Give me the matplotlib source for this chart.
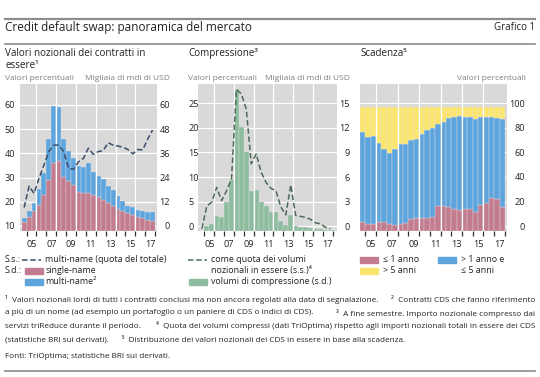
import matplotlib
matplotlib.use("Agg")
import matplotlib.pyplot as plt
import numpy as np
from matplotlib.lines import Line2D
from matplotlib.patches import Rectangle

plt.rcParams['font.family'] = ['Open Sans', 'DejaVu Sans']

# ---------------- data (semi-annual, H2 2004 .. H2 2017) ----------------
periods = ['2004-H2', '2005-H1', '2005-H2', '2006-H1', '2006-H2', '2007-H1', '2007-H2',
           '2008-H1', '2008-H2', '2009-H1', '2009-H2', '2010-H1', '2010-H2', '2011-H1',
           '2011-H2', '2012-H1', '2012-H2', '2013-H1', '2013-H2', '2014-H1', '2014-H2',
           '2015-H1', '2015-H2', '2016-H1', '2016-H2', '2017-H1', '2017-H2']

# Panel 1: notional outstanding (thousands of bn USD) and multi-name share (%)
single_name = [4.3, 6.8, 9.8, 12.6, 17.6, 25.0, 33.3, 34.7, 26.4, 24.7, 22.6, 19.2, 18.4, 18.4,
               17.6, 16.4, 15.1, 13.8, 12.1, 10.9, 9.8, 8.5, 7.6, 6.8, 6.0, 5.1, 4.5]
multi_name = [2.0, 3.0, 3.6, 7.8, 11.1, 20.3, 28.6, 26.8, 18.9, 14.9, 13.2, 12.8, 12.9, 15.3,
              11.6, 10.6, 10.3, 8.3, 8.0, 6.2, 5.0, 3.9, 4.0, 3.3, 3.5, 4.2, 4.6]
multi_share = [17.6, 26.4, 23.4, 29.6, 35.1, 40.7, 43.4, 43.4, 40.7, 33.8, 33.4, 36.5, 37.9, 42.1,
               39.6, 40.7, 41.1, 44.4, 43.4, 43.0, 42.5, 41.6, 39.8, 41.6, 41.4, 45.8, 49.6]

# Panel 2: compression volumes (thousands of bn USD) and share of notional (%)
compression = [0.0, 0.5, 0.75, 1.75, 1.65, 3.5, 6.2, 17.3, 12.6, 9.6, 4.8, 4.9, 3.5, 3.0,
               2.3, 2.3, 1.15, 0.65, 1.85, 0.53, 0.45, 0.37, 0.28, 0.2, 0.16, 0.12, 0.08]
compr_share = [-0.5, 4.1, 4.9, 7.9, 5.2, 7.2, 9.6, 27.8, 26.9, 23.8, 12.7, 14.7, 11.0, 8.9,
               7.7, 7.2, 3.9, 2.3, 8.4, 2.2, 2.0, 1.8, 1.4, 0.7, 0.5, -0.2, -0.5]

# Panel 3: maturity distribution (%)
le_1y = [7.1, 5.5, 5.2, 6.5, 7.1, 5.2, 4.3, 5.2, 5.7, 9.0, 9.8, 10.1, 10.1, 11.1,
         20.1, 20.1, 19.3, 17.1, 16.8, 17.7, 17.5, 14.7, 20.5, 22.0, 26.4, 25.3, 19.3]
y1_5 = [72.9, 70.5, 71.3, 64.5, 59.2, 57.8, 62.0, 65.2, 64.7, 64.3, 64.8, 68.4, 71.6, 71.9,
        66.4, 68.4, 71.7, 75.1, 76.2, 74.6, 74.7, 75.8, 71.9, 70.4, 65.6, 66.2, 71.5]
gt_5y = [20.0, 24.0, 23.5, 29.0, 33.7, 37.0, 33.7, 29.6, 29.6, 26.7, 25.4, 21.5, 18.3, 17.0,
         13.5, 11.5, 9.0, 7.8, 7.0, 7.7, 7.8, 9.5, 7.6, 7.6, 8.0, 8.5, 9.2]

year_labels = ['05', '07', '09', '11', '13', '15', '17']

# ---------------- styles ----------------
W, H = 540, 377
C_PINK = '#c27b8f'
C_BLUE = '#5ea5de'
C_YEL = '#fbe56e'
C_GREEN = '#8dbd9e'
C_BG = '#d9d9d9'
C_DASH1 = '#3a4d68'
C_DASH2 = '#4d6b5a'
C_TXT = '#222222'
C_UNIT = '#7f7f7f'
FS_TICK = 6.6

fig = plt.figure(figsize=(W / 100, H / 100), dpi=100)

def fx(x):
    return x / W

def fy(y):
    return 1 - y / H

def ftext(x, y, s, **kw):
    kw.setdefault('va', 'center')
    kw.setdefault('color', C_TXT)
    return fig.text(fx(x), fy(y), s, **kw)

TOP, BOT = 84, 230.5

def make_ax(x0, x1, xlim):
    ax = fig.add_axes([fx(x0), fy(BOT), (x1 - x0) / W, (BOT - TOP) / H])
    ax.set_facecolor(C_BG)
    for s in ax.spines.values():
        s.set_visible(False)
    ax.set_xlim(*xlim)
    ax.set_xticks(np.arange(2005, 2019))
    ax.set_xticklabels([])
    ax.set_xticks([int('20' + l) + 0.5 for l in year_labels], minor=True)
    ax.set_xticklabels(year_labels, minor=True)
    ax.tick_params(axis='x', which='major', direction='out', length=3.8, width=0.9,
                   color='#333333')
    ax.tick_params(axis='x', which='minor', length=0, pad=7.0, labelsize=FS_TICK,
                   labelcolor=C_TXT)
    ax.set_axisbelow(True)
    ax.grid(axis='y', color='white', lw=0.9)
    return ax

def make_twin(ax):
    t = ax.twinx()
    for s in t.spines.values():
        s.set_visible(False)
    return t

def vgrid(ax):
    for yr in range(2006, 2018, 2):
        ax.axvline(yr, color='white', lw=0.9, zorder=2.5)

x = 2004.75 + 0.5 * np.arange(len(periods))
BW = 0.5
EDGE = dict(edgecolor='#e4e4e4', linewidth=0.25)

# ---------------- panel 1 ----------------
ax1 = make_ax(20, 157, (2004.33, 2018.2))
ax1t = make_twin(ax1)
floor1 = -2.3
ax1.set_ylim(floor1, 70.4)
ax1.set_yticks(np.arange(0, 61, 12))
sn = np.array(single_name)
mn = np.array(multi_name)
ax1.bar(x, sn, bottom=floor1, width=BW, color=C_PINK, **EDGE)
ax1.bar(x, mn, bottom=floor1 + sn, width=BW, color=C_BLUE, **EDGE)
vgrid(ax1)
ax1t.set_ylim(10 + floor1 * 50 / 60, 10 + 70.4 * 50 / 60)
ax1t.set_yticks(np.arange(10, 61, 10))
ax1t.plot(x, multi_share, color=C_DASH1, lw=1.1, dashes=(3.6, 1.8))

# ---------------- panel 2 ----------------
ax2 = make_ax(198.3, 336.7, (2004.39, 2018.4))
ax2t = make_twin(ax2)
floor2 = -0.52
ax2.set_ylim(floor2, 17.35)
ax2.set_yticks(np.arange(0, 16, 3))
ax2.bar(x, compression, bottom=floor2, width=BW, color=C_GREEN, **EDGE)
vgrid(ax2)
ax2t.set_ylim(floor2 * 25 / 15, 17.35 * 25 / 15)
ax2t.set_yticks(np.arange(0, 26, 5))
ax2t.plot(x, compr_share, color=C_DASH2, lw=1.1, dashes=(3.6, 1.8))

# ---------------- panel 3 ----------------
ax3 = make_ax(360, 507, (2004.5, 2018.19))
floor3 = -3.5
ax3.set_ylim(floor3, 115.5)
ax3.set_yticks(np.arange(0, 101, 20))
a = np.array(le_1y)
b = np.array(y1_5)
c = np.array(gt_5y)
ax3.bar(x, a, bottom=floor3, width=BW, color=C_PINK, **EDGE)
ax3.bar(x, b, bottom=floor3 + a, width=BW, color=C_BLUE, **EDGE)
ax3.bar(x, c, bottom=floor3 + a + b, width=BW, color=C_YEL, **EDGE)
vgrid(ax3)

# ---------------- y tick sides / alignment (after twinning) ----------------
def right_labels(ax, pad):
    ax.yaxis.set_ticks_position('right')
    ax.tick_params(axis='y', which='both', length=0, labelsize=FS_TICK, labelcolor=C_TXT,
                   pad=pad, labelleft=False, labelright=True)
    for t in ax.get_yticklabels():
        t.set_horizontalalignment('right')

def left_labels(ax, pad, ha):
    ax.yaxis.set_ticks_position('left')
    ax.tick_params(axis='y', which='both', length=0, labelsize=FS_TICK, labelcolor=C_TXT,
                   pad=pad, labelleft=True, labelright=False)
    for t in ax.get_yticklabels():
        t.set_horizontalalignment(ha)

right_labels(ax1, 9.4)
left_labels(ax1t, 3.6, 'right')
right_labels(ax2, 9.6)
left_labels(ax2t, 7.2, 'left')
right_labels(ax3, 13)

# ---------------- header ----------------
fig.add_artist(Line2D([fx(5), fx(535)], [fy(19), fy(19)], color='#8c8c8c', lw=1.6))
fig.add_artist(Line2D([fx(5), fx(535)], [fy(43.5), fy(43.5)], color='#8c8c8c', lw=1.2))
ftext(5, 27, 'Credit default swap: panoramica del mercato', fontsize=8.5)
ftext(535, 27.5, 'Grafico 1', fontsize=7, ha='right')

FS_SUB = 7.15
ftext(5, 53.5, 'Valori nozionali dei contratti in', fontsize=FS_SUB)
ftext(5, 65, 'essere¹', fontsize=FS_SUB)
ftext(188, 53.5, 'Compressione³', fontsize=FS_SUB)
ftext(360, 53.5, 'Scadenza⁵', fontsize=FS_SUB)

FS_UNIT = 6.0
ftext(5, 78, 'Valori percentuali', fontsize=FS_UNIT, color=C_UNIT)
ftext(170, 78, 'Migliaia di mdi di USD', fontsize=FS_UNIT, color=C_UNIT, ha='right')
ftext(188, 78, 'Valori percentuali', fontsize=FS_UNIT, color=C_UNIT)
ftext(350, 78, 'Migliaia di mdi di USD', fontsize=FS_UNIT, color=C_UNIT, ha='right')
ftext(526, 78, 'Valori percentuali', fontsize=FS_UNIT, color=C_UNIT, ha='right')

# ---------------- legends ----------------
FS_LEG = 6.4
def leg_patch(x0, y, color):
    fig.add_artist(Rectangle((fx(x0), fy(y + 3)), 18 / W, 6 / H, color=color,
                             transform=fig.transFigure))

def leg_dash(x0, y, color):
    fig.add_artist(Line2D([fx(x0), fx(x0 + 19)], [fy(y), fy(y)], color=color, lw=1.1,
                          dashes=(3.6, 1.8)))

ly = [259.5, 270.5, 281.5]
ftext(5, ly[0], 'S.s.:', fontsize=FS_LEG)
leg_dash(22, ly[0], C_DASH1)
ftext(45, ly[0], 'multi-name (quota del totale)', fontsize=FS_LEG)
ftext(5, ly[1], 'S.d.:', fontsize=FS_LEG)
leg_patch(25, ly[1], C_PINK)
ftext(45, ly[1], 'single-name', fontsize=FS_LEG)
leg_patch(25, ly[2], C_BLUE)
ftext(45, ly[2], 'multi-name²', fontsize=FS_LEG)

leg_dash(188, ly[0], C_DASH2)
ftext(211, ly[0], 'come quota dei volumi', fontsize=FS_LEG)
ftext(211, ly[1], 'nozionali in essere (s.s.)⁴', fontsize=FS_LEG)
leg_patch(189, ly[2], C_GREEN)
ftext(211, ly[2], 'volumi di compressione (s.d.)', fontsize=FS_LEG)

leg_patch(360, ly[0], C_PINK)
ftext(383, ly[0], '≤ 1 anno', fontsize=FS_LEG)
leg_patch(360, ly[1], C_YEL)
ftext(383, ly[1], '> 5 anni', fontsize=FS_LEG)
leg_patch(438, ly[0], C_BLUE)
ftext(461, ly[0], '> 1 anno e', fontsize=FS_LEG)
ftext(461, ly[1], '≤ 5 anni', fontsize=FS_LEG)

# ---------------- footnotes ----------------
FS_FN = 5.9
fn_y = [300, 313, 326, 339]
ftext(5, fn_y[0], '¹  Valori nozionali lordi di tutti i contratti conclusi ma non ancora regolati alla data di segnalazione.', fontsize=FS_FN)
ftext(535, fn_y[0], '²  Contratti CDS che fanno riferimento', fontsize=FS_FN, ha='right')
ftext(5, fn_y[1], 'a più di un nome (ad esempio un portafoglio o un paniere di CDS o indici di CDS).', fontsize=FS_FN)
ftext(535, fn_y[1], '³  A fine semestre. Importo nozionale compresso dai', fontsize=FS_FN, ha='right')
ftext(5, fn_y[2], 'servizi triReduce durante il periodo.', fontsize=FS_FN)
ftext(535, fn_y[2], '⁴  Quota dei volumi compressi (dati TriOptima) rispetto agli importi nozionali totali in essere dei CDS', fontsize=FS_FN, ha='right')
ftext(5, fn_y[3], '(statistiche BRI sui derivati).      ⁵  Distribuzione dei valori nozionali dei CDS in essere in base alla scadenza.', fontsize=FS_FN)
ftext(5, 356, 'Fonti: TriOptima; statistiche BRI sui derivati.', fontsize=FS_FN)
fig.add_artist(Line2D([fx(5), fx(535)], [fy(371), fy(371)], color='#8c8c8c', lw=1.2))

fig.savefig('out.png', dpi=100)
